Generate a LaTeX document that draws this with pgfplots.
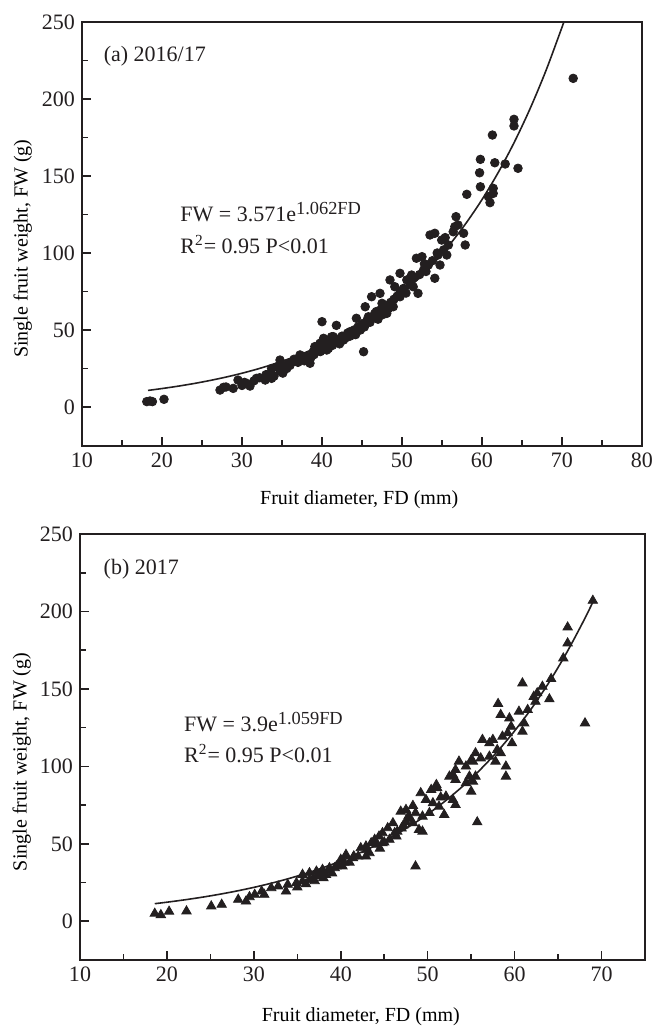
\documentclass[border=0pt]{standalone}
\usepackage{fontspec}
\setmainfont{Liberation Serif}
\usepackage{pgfplots}
\pgfplotsset{compat=1.18}
\definecolor{ink}{RGB}{35,31,32}
\newcommand{\lblfont}{\fontsize{11}{13}\selectfont}
\newcommand{\expsup}[1]{\raisebox{3.7pt}{\fontsize{9.2}{10}\selectfont #1}}
\pgfplotsset{myax/.style={
  scale only axis, anchor=north west,
  axis line style={line width=1pt, draw=ink},
  tick align=inside, xtick pos=left, ytick pos=left,
  major tick length=4.5pt, minor tick length=3pt,
  every tick/.style={draw=ink, line width=0.8pt},
  minor x tick num=1, minor y tick num=1,
  tick label style={font=\lblfont, text=ink},
  label style={font=\lblfont, text=ink},
  /pgf/number format/assume math mode=true,
  ymin=-25, ymax=250, ytick={0,50,...,250},
  clip=true,
}}
\begin{document}
\begin{tikzpicture}
\useasboundingbox (0,0) rectangle (327pt,-513.5pt);
% ---------- (a) ----------
\begin{axis}[myax, at={(41pt,-11pt)}, width=280pt, height=211.75pt,
  xmin=10, xmax=80, xtick={10,20,...,80},
  xlabel={Fruit diameter, FD (mm)}, ylabel={Single fruit weight, FW (g)},
  every axis y label/.style={rotate=90, anchor=center, at={(axis description cs:-0.106,0.465)}},
  every axis x label/.style={anchor=center, at={(axis description cs:0.495,-0.129)}},
]
\addplot[only marks, mark=*, mark size=2.15pt, draw=ink, fill=ink] coordinates {
(18.1,3.5) (18.5,3.9) (18.8,3.5) (20.25,5)
(27.25,11) (27.7,12.8) (28.0,13) (28.9,12.1) (29.5,17.5) (30.0,14) (30.3,16) (30.6,15.3) (31.0,13.6)
(31.5,17) (31.8,18.6) (32.2,19) (32.9,17.5) (33.0,21) (33.6,22) (33.7,18.6) (33.7,25) (34.0,20)
(34.3,26) (34.75,30.5) (34.8,23) (35.1,22) (35.3,27) (35.6,25) (35.8,28.4) (36.0,27) (36.4,29.4)
(36.5,31) (37.0,29) (37.25,33.8) (37.5,32) (37.7,32.7) (37.8,30) (38.1,30.5) (38.2,33) (38.5,28.4)
(38.6,32) (38.9,35.9) (39.0,34) (39.1,39.2) (39.3,36) (39.5,38) (39.75,41.4) (39.8,36) (40.0,55.4)
(40.2,44.6) (40.2,39) (40.5,41) (40.6,37) (40.8,38) (41.0,42) (41.2,45.6) (41.3,40) (41.4,45.7)
(41.6,43) (41.8,53) (42.0,44) (42.2,41) (42.5,46) (42.7,43.5) (43.0,45) (43.2,48) (43.5,48.9)
(43.5,46) (44.0,50) (44.2,47) (44.3,57.6) (44.5,52) (44.8,50) (45.0,54) (45.2,35.9) (45.3,52)
(45.4,65.1) (45.6,56) (45.8,58.6) (46.0,55) (46.2,71.6) (46.3,58) (46.6,60.8) (46.8,62) (47.0,57)
(47.25,73.8) (47.3,63) (47.5,67.3) (47.6,60) (48.0,66) (48.1,60.8) (48.3,64) (48.5,82.5) (48.6,68)
(48.9,65.1) (49.0,70) (49.1,78.1) (49.4,72) (49.75,86.8) (49.75,71.6) (49.8,75) (50.2,77) (50.5,74)
(50.6,82.5) (51.0,80) (51.2,85.7) (51.4,78.1) (51.5,84) (51.8,96.6) (52.0,73.8) (52.2,86) (52.5,97.6)
(52.7,89) (52.8,93) (53.0,88) (53.3,92.2) (53.5,111.7) (53.8,95) (54.1,112.8) (54.1,83.6) (54.4,100)
(54.5,98.7) (54.75,92.2) (54.96,108.4) (55.2,102) (55.4,110) (55.6,98.7) (55.8,105.2) (56.4,113.8)
(56.6,117.1) (56.75,123.6) (57.0,118.2) (57.7,112.8) (57.9,105.2) (58.1,138.1) (59.7,152.1)
(59.8,143) (59.8,160.8) (60.8,136.6) (61.0,132.7) (61.3,176.6) (61.4,142) (61.4,138.7) (61.6,158.6)
(62.9,157.8) (64.0,186.8) (64.0,182.5) (64.5,155) (71.4,213.4)
};
\addplot[draw=ink, line width=0.8pt, smooth] coordinates {
(18.25,10.77) (20,11.98) (22,13.52) (24,15.25) (26,17.22) (28,19.43) (30,21.93) (32,24.75)
(34,27.93) (36,31.53) (38,35.58) (40,40.16) (42,45.33) (44,51.16) (46,57.74) (48,65.16)
(50,73.54) (52,83.01) (54,93.68) (56,105.73) (58,119.33) (60,134.68) (62,152.0) (64,171.55)
(66,193.6) (68,218.5) (70,246.6) (70.22,250)
};
\node[anchor=base west, inner sep=0pt, font=\lblfont, text=ink] at (axis cs:12.67,224.2) {(a) 2016/17};
\node[anchor=base west, inner sep=0pt, font=\lblfont, text=ink] at (axis cs:22.25,120.3) {FW = 3.571e\expsup{1.062FD}};
\node[anchor=base west, inner sep=0pt, font=\lblfont, text=ink] at (axis cs:22.25,99.8) {R\textsuperscript{2}= 0.95 P<0.01};
\end{axis}
% ---------- (b) ----------
\begin{axis}[myax, at={(40pt,-267pt)}, width=282.5pt, height=213pt,
  xmin=10, xmax=75, xtick={10,20,...,70},
  xlabel={Fruit diameter, FD (mm)}, ylabel={Single fruit weight, FW (g)},
  every axis y label/.style={rotate=90, anchor=center, at={(axis description cs:-0.103,0.465)}},
  every axis x label/.style={anchor=center, at={(axis description cs:0.497,-0.133)}},
]
\addplot[only marks, mark=triangle*, mark size=2.7pt, draw=ink, fill=ink] coordinates {
(18.6,5) (19.3,4.1) (20.25,6.3) (22.25,6.5) (25.1,9.7) (26.3,10.8) (28.2,14) (29.1,12.9) (29.5,15.7)
(30.1,17.2) (30.9,19.3) (31.2,17.2) (32.0,21.5) (32.8,22.6) (33.7,19.3) (33.9,23.7) (34.9,24.8)
(35.0,22) (35.6,25.8) (35.6,30.1) (36.0,24) (36.4,26.9) (36.4,31.2) (36.8,27) (37.0,26) (37.2,29)
(37.2,32.2) (37.9,30.1) (37.9,33.3) (38.0,28) (38.3,30) (38.7,33.3) (38.7,34.4) (39.0,31) (39.3,34.4)
(39.5,35.5) (39.8,36) (40.0,39.8) (40.2,35.5) (40.4,38) (40.6,43) (41.0,38) (41.4,40.9) (41.5,42)
(42.0,41.9) (42.3,47.3) (42.9,48.4) (42.9,41.9) (43.0,46) (43.3,44.1) (43.5,50.5) (43.9,52.7)
(44.1,49.5) (44.4,54.8) (44.5,47) (44.8,57) (44.8,50.5) (45.0,51) (45.4,60.2) (45.6,52.7) (46.0,63.4)
(46.2,57) (46.4,54.8) (46.5,58) (46.9,70.9) (47.0,60) (47.2,62) (47.5,72) (47.5,64) (47.8,68)
(48.0,66) (48.3,74.6) (48.3,63.4) (48.6,69.9) (48.6,35.5) (49.0,59.1) (49.2,82.8) (49.4,67.7)
(49.4,58) (49.8,78.5) (50.2,70) (50.4,84.9) (50.6,76.3) (51.0,88.1) (51.1,86) (51.3,74.1) (51.5,80)
(51.9,68.8) (52.1,80.6) (52.5,93.5) (52.9,78.5) (52.9,94.6) (53.2,75.2) (53.2,91.4) (53.2,97.8)
(53.6,103.2) (54.4,89.2) (54.4,100) (54.8,93.5) (55.0,104) (55.0,83.8) (55.2,90.3) (55.2,103.2)
(55.5,108.6) (55.5,93.5) (55.7,64) (56.1,105.3) (56.3,117.2) (57.1,115) (57.1,106.4) (57.5,117.2)
(57.8,103.2) (58.0,110.7) (58.1,140.4) (58.4,133.3) (58.4,108.6) (58.6,119.3) (59.0,100) (59.0,93.5)
(59.2,121.5) (59.4,131.1) (59.6,125.7) (59.7,115) (60.5,135.4) (60.9,153.7) (60.9,122.5) (61.1,127.9)
(61.5,136.5) (62.2,145) (62.4,141.8) (62.6,147.3) (63.2,151.5) (64.0,143.4) (64.2,156.5) (65.6,169.8)
(66.1,179.5) (66.1,189.8) (68.1,127.9) (69.0,207)
};
\addplot[draw=ink, line width=0.8pt, smooth] coordinates {
(18.6,11.36) (20,12.32) (22,13.82) (24,15.50) (26,17.39) (28,19.51) (30,21.89) (32,24.56)
(34,27.55) (36,30.91) (38,34.68) (40,38.90) (42,43.64) (44,48.96) (46,54.93) (48,61.62)
(50,69.13) (52,77.56) (54,87.01) (56,97.62) (58,109.5) (60,122.9) (62,137.8) (64,154.6)
(66,173.5) (68,194.6) (69.1,207.2)
};
\node[anchor=base west, inner sep=0pt, font=\lblfont, text=ink] at (axis cs:12.68,224) {(b) 2017};
\node[anchor=base west, inner sep=0pt, font=\lblfont, text=ink] at (axis cs:21.94,122.5) {FW = 3.9e\expsup{1.059FD}};
\node[anchor=base west, inner sep=0pt, font=\lblfont, text=ink] at (axis cs:21.94,102.5) {R\textsuperscript{2}= 0.95 P<0.01};
\end{axis}
\end{tikzpicture}
\end{document}
